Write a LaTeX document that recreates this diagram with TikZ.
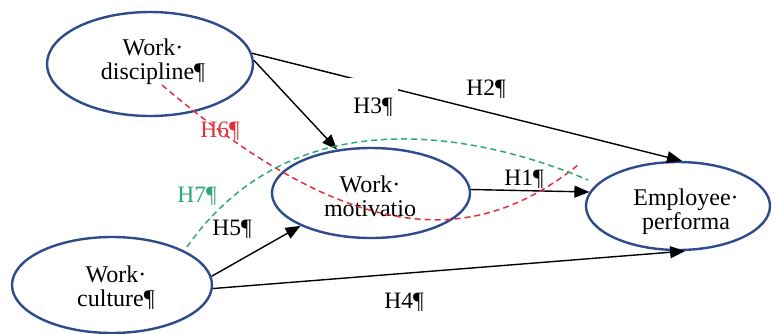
\documentclass[tikz,border=0pt]{standalone}
\usepackage{fontspec}
\setmainfont{Liberation Serif}
\usetikzlibrary{shapes.geometric,arrows.meta}
\definecolor{ellblue}{HTML}{2F4B8C}
\definecolor{hred}{HTML}{E0303A}
\definecolor{hgreen}{HTML}{2FA877}
\begin{document}
\begin{tikzpicture}[x=1pt,y=-1pt,
  construct/.style={draw=ellblue, line width=2.4pt, ellipse, inner sep=0pt},
  ctext/.style={font=\fontsize{24}{24}\selectfont, align=center, inner sep=0pt},
  hyp/.style={draw=black, line width=1.4pt, -{Triangle[length=15pt,width=12pt]}},
  hlabel/.style={font=\fontsize{23.5}{24}\selectfont, inner sep=1pt, anchor=base},
  hdash/.style={line width=1.5pt, dash pattern=on 6pt off 4pt}]
\useasboundingbox (0,0) rectangle (772,333);
\fill[white] (0,0) rectangle (772,333);
% constructs
\node[construct, minimum width=206pt, minimum height=104pt] (disc) at (150,64) {};
\node[construct, minimum width=198pt, minimum height=90pt] (mot) at (371,193) {};
\node[construct, minimum width=184pt, minimum height=88pt] (perf) at (678,206) {};
\node[construct, minimum width=200pt, minimum height=96pt] (cult) at (112,285) {};
\node[ctext] (disct) at (153,62) {Work·\\discipline¶};
\node[ctext] (mott) at (370,196) {Work·\\motivatio};
\node[ctext] (perft) at (686,212) {Employee·\\performa};
\node[ctext] (cultt) at (116,288) {Work·\\culture¶};
% hypotheses paths
\draw[hyp] (disc.2) -- (mot.128);
\draw[hyp] (disc.6) -- (perf.85);
\draw[hyp] (mot.2) -- (perf.171);
\draw[hyp] (cult.5) -- (mot.205);
\draw[hyp] (cult.-2) -- (perf.-81);
% mediation curves
\coordinate (r0) at (162,85);
\coordinate (r1) at (578,165);
\draw[hred, hdash] (r0) .. controls (349,244) and (471,251) .. (r1);
\coordinate (g0) at (187,247);
\coordinate (g1) at (588,180);
\draw[hgreen, hdash] (g0) .. controls (290,100) and (470,130) .. (g1);
% labels
\node[hlabel] (h1) at (524,185) {H1¶};
\node[hlabel] (h2) at (486,95) {H2¶};
\node[hlabel, fill=white, text height=34pt, inner xsep=5pt] (h3) at (373,113) {H3¶};
\node[hlabel] (h4) at (404,308) {H4¶};
\node[hlabel] (h5) at (232,235) {H5¶};
\node[hlabel, text=hred] (h6) at (220,137) {H6¶};
\node[hlabel, text=hgreen] (h7) at (197,202) {H7¶};
\end{tikzpicture}
\end{document}
